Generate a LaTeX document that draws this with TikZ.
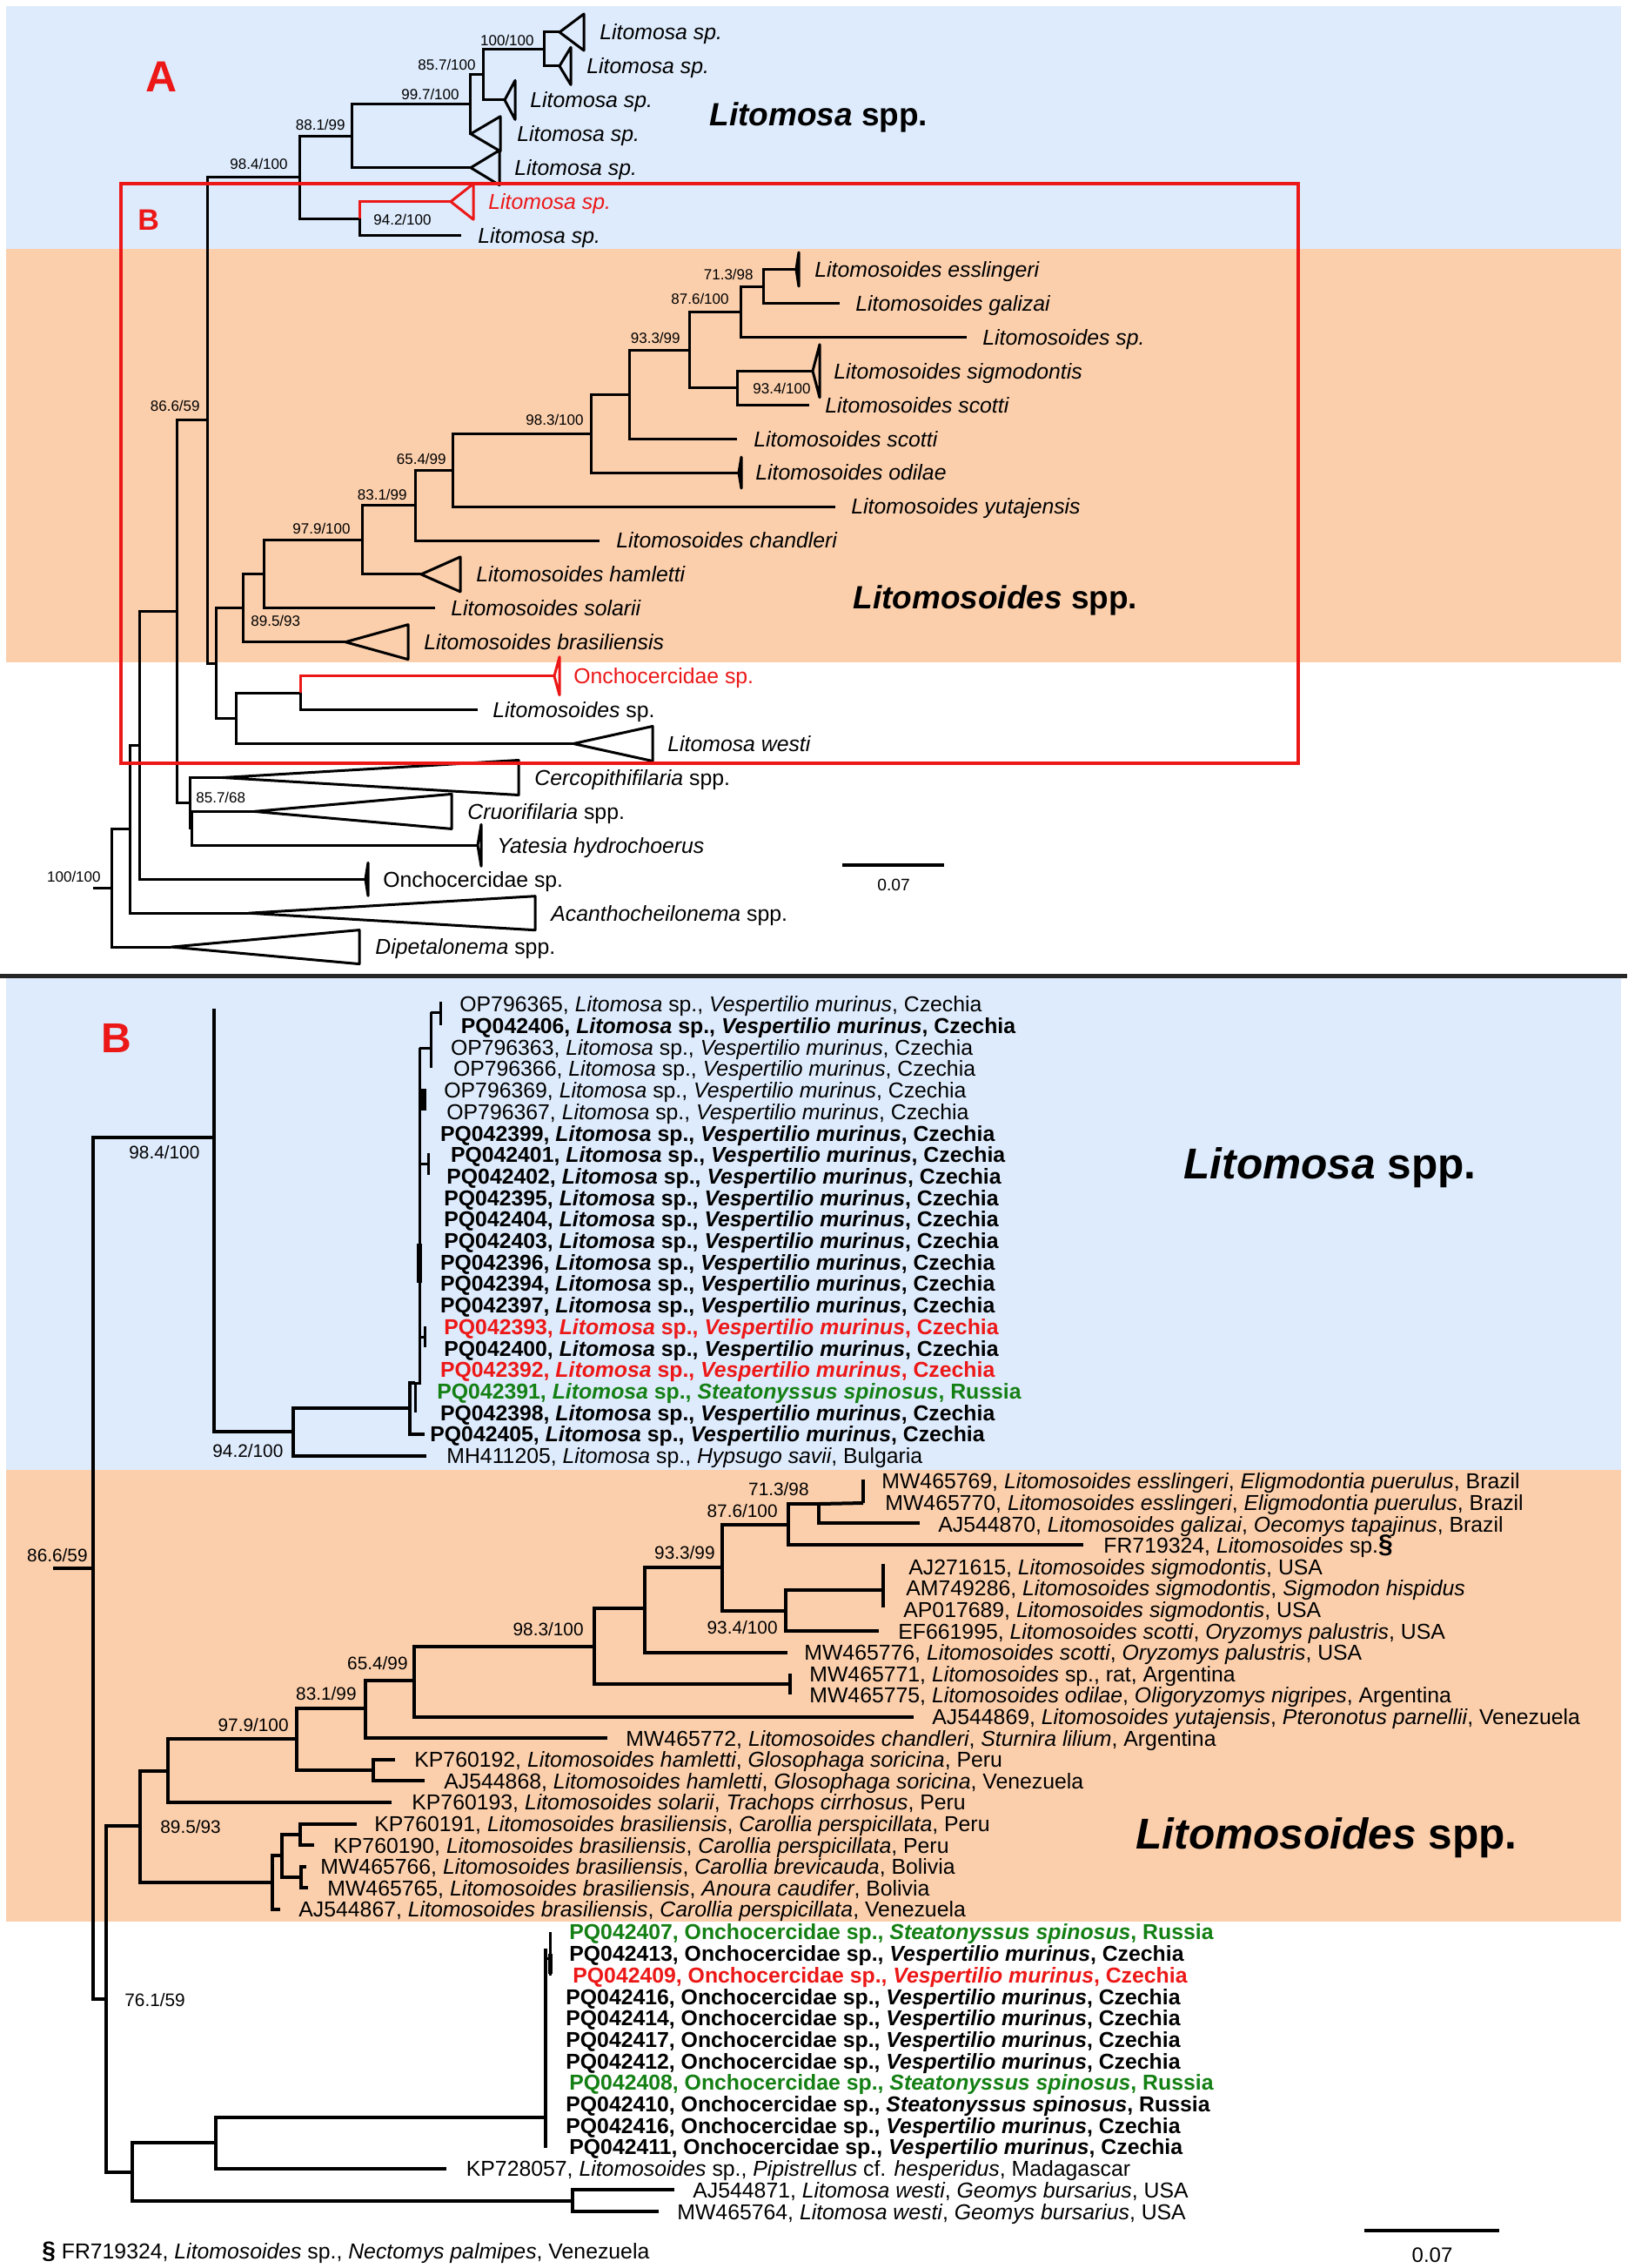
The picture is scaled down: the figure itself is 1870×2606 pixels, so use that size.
\documentclass[tikz,border=0pt]{standalone}
\usepackage{fontspec}
\setmainfont{Liberation Sans}
\definecolor{bgblue}{RGB}{222,235,252}
\definecolor{bgorange}{RGB}{252,207,172}
\definecolor{myred}{RGB}{236,24,24}
\definecolor{mygreen}{RGB}{20,128,20}
\newcommand\tipf{\fontsize{12.4pt}{14pt}\selectfont}
\newcommand\bootAf{\fontsize{8.5pt}{10pt}\selectfont}
\newcommand\bootBf{\fontsize{10.4pt}{12pt}\selectfont}
\newcommand\vmur{\textit{Vespertilio murinus}}
\newcommand\stsp{\textit{Steatonyssus spinosus}}
\newcommand\litsp{\textit{Litomosa} sp.}
\newcommand\clade[4]{\draw[tri,#4] (#1) -- ++(#2,-#3) -- ++(0,2*#3) -- cycle;}
\begin{document}
\begin{tikzpicture}[x=0.5pt,y=-0.5pt,
  brA/.style={line width=1.5pt},
  brB/.style={line width=2pt},
  brS/.style={line width=1.5pt},
  tri/.style={line width=1.5pt, line join=round},
  leaf/.style={anchor=base west, yshift=-4.44pt, inner sep=0pt, font=\tipf},
  leafb/.style={leaf, font=\tipf\bfseries},
  bAe/.style={anchor=base east, yshift=-3.04pt, inner sep=0pt, font=\bootAf},
  bAw/.style={anchor=base west, yshift=-3.04pt, inner sep=0pt, font=\bootAf},
  bBe/.style={anchor=base east, yshift=-3.72pt, inner sep=0pt, font=\bootBf},
  bBw/.style={anchor=base west, yshift=-3.72pt, inner sep=0pt, font=\bootBf}]
\useasboundingbox (0,0) rectangle (1870,2606);
\fill[white] (0,0) rectangle (1870,2606);
% ---------------- backgrounds ----------------
\fill[bgblue] (7,7) rectangle (1863,286);
\fill[bgorange] (7,286) rectangle (1863,761);
\fill[bgblue] (7,1124) rectangle (1863,1689);
\fill[bgorange] (7,1689) rectangle (1863,2208);
\coordinate (sepL) at (0,1121);
\coordinate (sepR) at (1870,1121);
\draw[line width=2.5pt, black!85] (sepL) -- (sepR);

% ================= PANEL A =================
\coordinate (a0s) at (107,1020.5);
\coordinate (a0) at (128,1020.5);
\coordinate (a1) at (149,952.9);
\coordinate (a2) at (160,856.5);
\coordinate (a3) at (203,702.8);
\coordinate (a4) at (238,482.8);
\coordinate (a5) at (344,203.7);
\coordinate (a6) at (404,156.2);
\coordinate (a7) at (540,119.7);
\coordinate (a8) at (555,85.7);
\coordinate (a8b) at (625,56.5);
\coordinate (a9) at (413,251.1);
\coordinate (a10) at (248,762);
\coordinate (a11) at (279,698.6);
\coordinate (a12) at (303,659.5);
\coordinate (a13) at (416,620.2);
\coordinate (a14) at (477,580.5);
\coordinate (a15) at (520,540);
\coordinate (a16) at (679,498.1);
\coordinate (a17) at (723,453.1);
\coordinate (a18) at (792,402);
\coordinate (a19) at (851,358.2);
\coordinate (a19c) at (877,329);
\coordinate (a19b) at (847,445.8);
\coordinate (a20) at (218,922.7);
\coordinate (a21) at (220,951.9);
\coordinate (a30) at (271,825.3);
\coordinate (a31) at (345,796.2);
% tips
\coordinate (p1) at (643,37.0);
\coordinate (p2) at (643,75.9);
\coordinate (p3) at (580,114.9);
\coordinate (p4) at (541,153.8);
\coordinate (p5) at (541,192.7);
\coordinate (p6) at (518,231.7);
\coordinate (p7) at (530,270.6);
\coordinate (p8) at (915,309.5);
\coordinate (p9) at (965,348.4);
\coordinate (p10) at (1111,387.4);
\coordinate (p11) at (934,426.3);
\coordinate (p12) at (930,465.2);
\coordinate (p13) at (847,504.2);
\coordinate (p14) at (849,543.1);
\coordinate (p15) at (960,582.0);
\coordinate (p16) at (689,621.0);
\coordinate (p17) at (484,659.9);
\coordinate (p18) at (500,698.8);
\coordinate (p19) at (397,737.7);
\coordinate (p20) at (637,776.7);
\coordinate (p21) at (549,815.6);
\coordinate (p22) at (659,854.5);
\coordinate (p23) at (256,893.5);
\coordinate (p24) at (292,932.4);
\coordinate (p25) at (549,971.3);
\coordinate (p26) at (420,1010.3);
\coordinate (p27) at (286,1049.2);
\coordinate (p28) at (197,1088.1);
% branches
\draw[brA] (a0s) -- (a0);
\draw[brA] (a0) |- (a1);  \draw[brA] (a0) |- (p28);
\draw[brA] (a1) |- (a2);  \draw[brA] (a1) |- (p27);
\draw[brA] (a2) |- (a3);  \draw[brA] (a2) |- (p26);
\draw[brA] (a3) |- (a4);  \draw[brA] (a3) |- (a20);
\draw[brA] (a4) |- (a5);  \draw[brA] (a4) |- (a10);
\draw[brA] (a5) |- (a6);  \draw[brA] (a5) |- (a9);
\draw[brA] (a6) |- (a7);  \draw[brA] (a6) |- (p5);
\draw[brA] (a7) |- (a8);  \draw[brA] (a7) |- (p4);
\draw[brA] (a8) |- (a8b); \draw[brA] (a8) |- (p3);
\draw[brA] (a8b) |- (p1); \draw[brA] (a8b) |- (p2);
\draw[brA] (a9) |- (p7);  \draw[brA, myred] (a9) |- (p6);
\draw[brA] (a10) |- (a11); \draw[brA] (a10) |- (a30);
\draw[brA] (a11) |- (a12); \draw[brA] (a11) |- (p19);
\draw[brA] (a12) |- (a13); \draw[brA] (a12) |- (p18);
\draw[brA] (a13) |- (a14); \draw[brA] (a13) |- (p17);
\draw[brA] (a14) |- (a15); \draw[brA] (a14) |- (p16);
\draw[brA] (a15) |- (a16); \draw[brA] (a15) |- (p15);
\draw[brA] (a16) |- (a17); \draw[brA] (a16) |- (p14);
\draw[brA] (a17) |- (a18); \draw[brA] (a17) |- (p13);
\draw[brA] (a18) |- (a19); \draw[brA] (a18) |- (a19b);
\draw[brA] (a19) |- (a19c); \draw[brA] (a19) |- (p10);
\draw[brA] (a19c) |- (p8); \draw[brA] (a19c) |- (p9);
\draw[brA] (a19b) |- (p11); \draw[brA] (a19b) |- (p12);
\draw[brA] (a30) |- (a31); \draw[brA] (a30) |- (p22);
\draw[brA] (a31) |- (p21); \draw[brA, myred] (a31) |- (p20);
\draw[brA] (a20) |- (p23); \draw[brA] (a20) |- (a21);
\draw[brA] (a21) |- (p24); \draw[brA] (a21) |- (p25);
% collapsed clades
\clade{p1}{28}{21}{}
\clade{p2}{13}{21.5}{}
\clade{p3}{12}{22.5}{}
\clade{p4}{34}{20}{}
\clade{p5}{33}{20}{}
\clade{p6}{26}{20.5}{myred}
\clade{p8}{3}{19.5}{}
\clade{p11}{8}{30.5}{}
\clade{p14}{3}{18}{}
\clade{p17}{45}{20}{}
\clade{p19}{72}{20}{}
\clade{p20}{6}{22}{myred}
\clade{p22}{91}{20}{}
\clade{p23}{340}{20}{}
\clade{p24}{227}{20}{}
\clade{p25}{4}{24}{}
\clade{p26}{3}{19}{}
\clade{p27}{329}{19.5}{}
\clade{p28}{216}{19.5}{}
% tip labels
\node[leaf] (l1) at (689,37.0) {\textit{Litomosa sp.}};
\node[leaf] (l2) at (674,75.9) {\textit{Litomosa sp.}};
\node[leaf] (l3) at (609,114.9) {\textit{Litomosa sp.}};
\node[leaf] (l4) at (594,153.8) {\textit{Litomosa sp.}};
\node[leaf] (l5) at (591,192.7) {\textit{Litomosa sp.}};
\node[leaf, text=myred] (l6) at (561,231.7) {\textit{Litomosa sp.}};
\node[leaf] (l7) at (549,270.6) {\textit{Litomosa sp.}};
\node[leaf] (l8) at (936,309.5) {\textit{Litomosoides esslingeri}};
\node[leaf] (l9) at (983,348.4) {\textit{Litomosoides galizai}};
\node[leaf] (l10) at (1129,387.4) {\textit{Litomosoides sp.}};
\node[leaf] (l11) at (958,426.3) {\textit{Litomosoides sigmodontis}};
\node[leaf] (l12) at (948,465.2) {\textit{Litomosoides scotti}};
\node[leaf] (l13) at (866,504.2) {\textit{Litomosoides scotti}};
\node[leaf] (l14) at (868,543.1) {\textit{Litomosoides odilae}};
\node[leaf] (l15) at (978,582.0) {\textit{Litomosoides yutajensis}};
\node[leaf] (l16) at (708,621.0) {\textit{Litomosoides chandleri}};
\node[leaf] (l17) at (547,659.9) {\textit{Litomosoides hamletti}};
\node[leaf] (l18) at (518,698.8) {\textit{Litomosoides solarii}};
\node[leaf] (l19) at (487,737.7) {\textit{Litomosoides brasiliensis}};
\node[leaf, text=myred] (l20) at (659,776.7) {Onchocercidae sp.};
\node[leaf] (l21) at (566,815.6) {\textit{Litomosoides} sp.};
\node[leaf] (l22) at (767,854.5) {\textit{Litomosa westi}};
\node[leaf] (l23) at (614,893.5) {\textit{Cercopithifilaria} spp.};
\node[leaf] (l24) at (537,932.4) {\textit{Cruorifilaria} spp.};
\node[leaf] (l25) at (571,971.3) {\textit{Yatesia hydrochoerus}};
\node[leaf] (l26) at (440,1010.3) {Onchocercidae sp.};
\node[leaf] (l27) at (633,1049.2) {\textit{Acanthocheilonema} spp.};
\node[leaf] (l28) at (431,1088.1) {\textit{Dipetalonema} spp.};
% support values
\node[bAe] (sA1) at (614,46) {100/100};
\node[bAe] (sA2) at (547,74) {85.7/100};
\node[bAe] (sA3) at (528,108) {99.7/100};
\node[bAe] (sA4) at (397,143) {88.1/99};
\node[bAe] (sA5) at (331,188) {98.4/100};
\node[bAw] (sA6) at (429,252) {94.2/100};
\node[bAe] (sA7) at (866,315) {71.3/98};
\node[bAe] (sA8) at (838,343) {87.6/100};
\node[bAe] (sA9) at (782,388) {93.3/99};
\node[bAw] (sA10) at (865,446) {93.4/100};
\node[bAe] (sA11) at (671,482) {98.3/100};
\node[bAe] (sA12) at (513,527) {65.4/99};
\node[bAe] (sA13) at (230,466) {86.6/59};
\node[bAe] (sA14) at (468,568) {83.1/99};
\node[bAe] (sA15) at (403,607) {97.9/100};
\node[bAw] (sA16) at (288,713) {89.5/93};
\node[bAw] (sA17) at (225,916) {85.7/68};
\node[bAe] (sA18) at (116,1007) {100/100};
% group labels
\node[anchor=base west, yshift=-6.62pt, inner sep=0pt, font=\fontsize{18.5pt}{20pt}\selectfont\bfseries] (gA1) at (815,131) {\textit{Litomosa} spp.};
\node[anchor=base west, yshift=-6.62pt, inner sep=0pt, font=\fontsize{18.5pt}{20pt}\selectfont\bfseries] (gA2) at (980,686) {\textit{Litomosoides} spp.};
\node[anchor=base west, yshift=-8.95pt, inner sep=0pt, text=myred, font=\fontsize{25pt}{26pt}\selectfont\bfseries] (lblA) at (167,87.5) {A};
\node[anchor=base west, yshift=-6.09pt, inner sep=0pt, text=myred, font=\fontsize{17pt}{18pt}\selectfont\bfseries] (lblBa) at (158,252) {B};
% scale bar A
\coordinate (scA1) at (968,994);
\coordinate (scA2) at (1085,994);
\draw[line width=2.2pt] (scA1) -- (scA2);
\node[anchor=base, yshift=-3.44pt, inner sep=0pt, font=\fontsize{9.6pt}{11pt}\selectfont] (scAl) at (1027,1017) {0.07};
% red frame
\draw[myred, line width=2.3pt] (139,211) rectangle (1492,877);

% ================= PANEL B =================
\coordinate (b0s) at (61,1802);
\coordinate (b0) at (107,1802);
\coordinate (b1) at (246,1307);
\coordinate (b1t) at (246,1159);
\coordinate (b2) at (337,1645);
\coordinate (b3) at (471,1618);
\coordinate (b4) at (477,1589);
\coordinate (b4b) at (477,1623);
\coordinate (b5) at (482,1589);
\coordinate (b5t) at (482,1204);
\coordinate (tMH) at (490,1672.7);
\coordinate (t405) at (488,1648);
\draw[brB] (b0s) -- (b0);
\draw[brB] (b0) |- (b1);
\draw[brB] (b1t) -- (b1);
\draw[brB] (b1) |- (b2);
\draw[brB] (b2) |- (b3); \draw[brB] (b2) |- (tMH);
\draw[brB] (b3) |- (b4); \draw[brB] (b3) |- (t405);
\draw[brS] (b4) -- (b4b);
\draw[brS] (b4) -- (b5) -- (b5t);
% fine structure of the Litomosa sp. cluster
\coordinate (k1) at (495,1204);
\coordinate (k2) at (495,1163);
\coordinate (k3) at (495,1227);
\coordinate (k4) at (506,1163);
\draw[brS] (b5t) -- (k1);
\draw[brS] (k2) -- (k3);
\draw[brS] (k2) -- (k4);
\draw[brS] (506,1151) -- (506,1178);
\draw[line width=3pt] (487,1251) -- (487,1276);
\draw[brS] (482,1263) -- (487,1263);
\draw[brS] (482,1337) -- (492,1337);
\draw[brS] (492,1325) -- (492,1350);
\draw[line width=3pt] (482,1429) -- (482,1474);
\draw[brS] (482,1536) -- (488,1536);
\draw[brS] (488,1524) -- (488,1548);

% Litomosoides and rest
\coordinate (c1) at (122,2297);
\coordinate (c2) at (161,2098);
\coordinate (c3) at (193,2035);
\coordinate (c4) at (341,1998);
\coordinate (c5) at (420,1963);
\coordinate (c6) at (476,1931);
\coordinate (c7) at (683,1892);
\coordinate (c8) at (741,1848);
\coordinate (c9) at (830,1801);
\coordinate (c10) at (906,1752);
\coordinate (c11) at (941,1728);
\coordinate (c13) at (903,1851);
\coordinate (c20) at (429,2034);
\coordinate (c30) at (313,2163);
\coordinate (c31) at (324,2132);
\coordinate (c32) at (345,2108);
\coordinate (c33) at (346,2157);
\coordinate (c40) at (152,2496);
\coordinate (c41) at (247.5,2462);
\coordinate (c42) at (627,2433);
\coordinate (c50) at (658,2529);
\coordinate (q0) at (992,1727);
\coordinate (q0t) at (992,1700);
\coordinate (q2) at (1057,1750);
\coordinate (q3) at (1245,1775);
\coordinate (q4) at (1015,1827);
\coordinate (q7) at (1010,1874);
\coordinate (q8) at (905,1899);
\coordinate (q9) at (907.5,1935);
\coordinate (q11) at (1050,1973);
\coordinate (q12) at (698,1997);
\coordinate (q13) at (454,2022);
\coordinate (q14) at (488,2046);
\coordinate (q15) at (450,2071);
\coordinate (q16) at (410,2096);
\coordinate (q17) at (361,2120);
\coordinate (q18) at (352,2145);
\coordinate (q19) at (354,2169);
\coordinate (q20) at (322,2194);
\coordinate (q21) at (513,2492);
\coordinate (q22) at (775,2516);
\coordinate (q23) at (757,2541);
\draw[brB] (b0) |- (c1);
\draw[brB] (c1) |- (c2);  \draw[brB] (c1) |- (c40);
\draw[brB] (c2) |- (c3);  \draw[brB] (c2) |- (c30);
\draw[brB] (c3) |- (c4);  \draw[brB] (c3) |- (q15);
\draw[brB] (c4) |- (c5);  \draw[brB] (c4) |- (c20);
\draw[brB] (c20) |- (q13); \draw[brB] (c20) |- (q14);
\draw[brB] (c5) |- (c6);  \draw[brB] (c5) |- (q12);
\draw[brB] (c6) |- (c7);  \draw[brB] (c6) |- (q11);
\draw[brB] (c7) |- (c8);  \draw[brB] (c7) |- (q9);
\draw[brB] (907.5,1923) -- (907.5,1947);
\draw[brB] (c8) |- (c9);  \draw[brB] (c8) |- (q8);
\draw[brB] (c9) |- (c10); \draw[brB] (c9) |- (c13);
\draw[brB] (c10) |- (c11); \draw[brB] (c10) |- (q3);
\draw[brB] (c11) -- (q0); \draw[brB] (c11) |- (q2);
\draw[brB] (q0) -- (q0t);
\draw[brB] (c13) |- (q4); \draw[brB] (c13) |- (q7);
\draw[brB] (1015,1797) -- (1015,1847);
\draw[brB] (c30) |- (c31); \draw[brB] (c30) |- (q20);
\draw[brB] (c31) |- (c32); \draw[brB] (c31) |- (c33);
\draw[brB] (c32) |- (q16); \draw[brB] (c32) |- (q17);
\draw[brB] (c33) |- (q18); \draw[brB] (c33) |- (q19);
\draw[brB] (c40) |- (c41); \draw[brB] (c40) |- (c50);
\draw[brB] (c41) |- (c42); \draw[brB] (c41) |- (q21);
\draw[brB] (627,2239) -- (627,2468);
\draw[brS] (632,2220) -- (632,2270);
\draw[line width=2.5pt] (632,2245) -- (632,2268);
\draw[brS] (627,2250) -- (632,2250);
\draw[brB] (c50) |- (q22); \draw[brB] (c50) |- (q23);

% Litomosa rows
\node[leaf] (r0) at (528,1154) {OP796365, \litsp, \vmur, Czechia};
\node[leafb] (r1) at (529.5,1178.7) {PQ042406, \litsp, \vmur, Czechia};
\node[leaf] (r2) at (517.6,1203.4) {OP796363, \litsp, \vmur, Czechia};
\node[leaf] (r3) at (520.6,1228.1) {OP796366, \litsp, \vmur, Czechia};
\node[leaf] (r4) at (510,1252.8) {OP796369, \litsp, \vmur, Czechia};
\node[leaf] (r5) at (513,1277.5) {OP796367, \litsp, \vmur, Czechia};
\node[leafb] (r6) at (505.7,1302.2) {PQ042399, \litsp, \vmur, Czechia};
\node[leafb] (r7) at (517.6,1326.9) {PQ042401, \litsp, \vmur, Czechia};
\node[leafb] (r8) at (513,1351.6) {PQ042402, \litsp, \vmur, Czechia};
\node[leafb] (r9) at (510,1376.3) {PQ042395, \litsp, \vmur, Czechia};
\node[leafb] (r10) at (510,1401) {PQ042404, \litsp, \vmur, Czechia};
\node[leafb] (r11) at (510,1425.7) {PQ042403, \litsp, \vmur, Czechia};
\node[leafb] (r12) at (505.7,1450.4) {PQ042396, \litsp, \vmur, Czechia};
\node[leafb] (r13) at (505.7,1475.1) {PQ042394, \litsp, \vmur, Czechia};
\node[leafb] (r14) at (505.7,1499.8) {PQ042397, \litsp, \vmur, Czechia};
\node[leafb, text=myred] (r15) at (510,1524.5) {PQ042393, \litsp, \vmur, Czechia};
\node[leafb] (r16) at (510,1549.2) {PQ042400, \litsp, \vmur, Czechia};
\node[leafb, text=myred] (r17) at (505.7,1573.9) {PQ042392, \litsp, \vmur, Czechia};
\node[leafb, text=mygreen] (r18) at (502,1598.6) {PQ042391, \litsp, \stsp, Russia};
\node[leafb] (r19) at (505.7,1623.3) {PQ042398, \litsp, \vmur, Czechia};
\node[leafb] (r20) at (494,1648) {PQ042405, \litsp, \vmur, Czechia};
\node[leaf] (r21) at (513,1672.7) {MH411205, \litsp, \textit{Hypsugo savii}, Bulgaria};
% Litomosoides rows
\node[leaf] (s0) at (1013,1702) {MW465769, \textit{Litomosoides esslingeri}, \textit{Eligmodontia puerulus}, Brazil};
\node[leaf] (s1) at (1017,1726.6) {MW465770, \textit{Litomosoides esslingeri}, \textit{Eligmodontia puerulus}, Brazil};
\node[leaf] (s2) at (1078,1751.2) {AJ544870, \textit{Litomosoides galizai}, \textit{Oecomys tapajinus}, Brazil};
\node[leaf] (s3) at (1268,1775.8) {FR719324, \textit{Litomosoides} sp.\textbf{\fontsize{15pt}{15pt}\selectfont §}};
\node[leaf] (s4) at (1044,1800.4) {AJ271615, \textit{Litomosoides sigmodontis}, USA};
\node[leaf] (s5) at (1041,1825) {AM749286, \textit{Litomosoides sigmodontis}, \textit{Sigmodon hispidus}};
\node[leaf] (s6) at (1038,1849.6) {AP017689, \textit{Litomosoides sigmodontis}, USA};
\node[leaf] (s7) at (1032,1874.2) {EF661995, \textit{Litomosoides scotti}, \textit{Oryzomys palustris}, USA};
\node[leaf] (s8) at (924,1898.8) {MW465776, \textit{Litomosoides scotti}, \textit{Oryzomys palustris}, USA};
\node[leaf] (s9) at (930,1923.4) {MW465771, \textit{Litomosoides} sp., rat, Argentina};
\node[leaf] (s10) at (930,1948) {MW465775, \textit{Litomosoides odilae}, \textit{Oligoryzomys nigripes}, Argentina};
\node[leaf] (s11) at (1071,1972.6) {AJ544869, \textit{Litomosoides yutajensis}, \textit{Pteronotus parnellii}, Venezuela};
\node[leaf] (s12) at (719,1997.2) {MW465772, \textit{Litomosoides chandleri}, \textit{Sturnira lilium}, Argentina};
\node[leaf] (s13) at (476,2021.8) {KP760192, \textit{Litomosoides hamletti}, \textit{Glosophaga soricina}, Peru};
\node[leaf] (s14) at (510,2046.4) {AJ544868, \textit{Litomosoides hamletti}, \textit{Glosophaga soricina}, Venezuela};
\node[leaf] (s15) at (473,2071) {KP760193, \textit{Litomosoides solarii}, \textit{Trachops cirrhosus}, Peru};
\node[leaf] (s16) at (430,2095.6) {KP760191, \textit{Litomosoides brasiliensis}, \textit{Carollia perspicillata}, Peru};
\node[leaf] (s17) at (383,2120.2) {KP760190, \textit{Litomosoides brasiliensis}, \textit{Carollia perspicillata}, Peru};
\node[leaf] (s18) at (368,2144.8) {MW465766, \textit{Litomosoides brasiliensis}, \textit{Carollia brevicauda}, Bolivia};
\node[leaf] (s19) at (376,2169.4) {MW465765, \textit{Litomosoides brasiliensis}, \textit{Anoura caudifer}, Bolivia};
\node[leaf] (s20) at (343,2194) {AJ544867, \textit{Litomosoides brasiliensis}, \textit{Carollia perspicillata}, Venezuela};
% Onchocercidae rows
\node[leafb, text=mygreen] (o0) at (654,2220) {PQ042407, Onchocercidae sp., \stsp, Russia};
\node[leafb] (o1) at (654,2244.7) {PQ042413, Onchocercidae sp., \vmur, Czechia};
\node[leafb, text=myred] (o2) at (658,2269.4) {PQ042409, Onchocercidae sp., \vmur, Czechia};
\node[leafb] (o3) at (650,2294.1) {PQ042416, Onchocercidae sp., \vmur, Czechia};
\node[leafb] (o4) at (650,2318.8) {PQ042414, Onchocercidae sp., \vmur, Czechia};
\node[leafb] (o5) at (650,2343.5) {PQ042417, Onchocercidae sp., \vmur, Czechia};
\node[leafb] (o6) at (650,2368.2) {PQ042412, Onchocercidae sp., \vmur, Czechia};
\node[leafb, text=mygreen] (o7) at (654,2392.9) {PQ042408, Onchocercidae sp., \stsp, Russia};
\node[leafb] (o8) at (650,2417.6) {PQ042410, Onchocercidae sp., \stsp, Russia};
\node[leafb] (o9) at (650,2442.3) {PQ042416, Onchocercidae sp., \vmur, Czechia};
\node[leafb] (o10) at (654,2467) {PQ042411, Onchocercidae sp., \vmur, Czechia};
\node[leaf] (o11) at (535.5,2491.7) {KP728057, \textit{Litomosoides} sp., \textit{Pipistrellus} cf. \textit{hesperidus}, Madagascar};
\node[leaf] (o12) at (796,2516.4) {AJ544871, \textit{Litomosa westi}, \textit{Geomys bursarius}, USA};
\node[leaf] (o13) at (778,2541.1) {MW465764, \textit{Litomosa westi}, \textit{Geomys bursarius}, USA};
% support values B
\node[bBw] (sB1) at (148,1324) {98.4/100};
\node[bBw] (sB2) at (244,1667) {94.2/100};
\node[bBe] (sB3) at (101,1787) {86.6/59};
\node[bBw] (sB4) at (143,2298) {76.1/59};
\node[bBw] (sB5) at (184,2099) {89.5/93};
\node[bBe] (sB6) at (332,1982) {97.9/100};
\node[bBe] (sB7) at (410,1946) {83.1/99};
\node[bBe] (sB8) at (469,1911) {65.4/99};
\node[bBe] (sB9) at (671,1872) {98.3/100};
\node[bBe] (sB10) at (822,1784) {93.3/99};
\node[bBe] (sB11) at (894,1736) {87.6/100};
\node[bBe] (sB12) at (930,1711) {71.3/98};
\node[bBe] (sB13) at (894,1870) {93.4/100};
% group labels B
\node[anchor=base west, yshift=-8.88pt, inner sep=0pt, font=\fontsize{24.8pt}{26pt}\selectfont\bfseries] (gB1) at (1360,1337) {\textit{Litomosa} spp.};
\node[anchor=base west, yshift=-8.88pt, inner sep=0pt, font=\fontsize{24.8pt}{26pt}\selectfont\bfseries] (gB2) at (1305,2107) {\textit{Litomosoides} spp.};
\node[anchor=base west, yshift=-8.6pt, inner sep=0pt, text=myred, font=\fontsize{24pt}{25pt}\selectfont\bfseries] (lblB) at (116,1192) {B};
% scale bar B
\coordinate (scB1) at (1568,2563);
\coordinate (scB2) at (1723,2563);
\draw[line width=2pt] (scB1) -- (scB2);
\node[anchor=base, yshift=-4.3pt, inner sep=0pt, font=\fontsize{12pt}{13pt}\selectfont] (scBl) at (1646,2591) {0.07};
% footnote
\node[leaf] (fn) at (48,2587) {\textbf{\fontsize{14pt}{14pt}\selectfont §} FR719324, \textit{Litomosoides} sp., \textit{Nectomys palmipes}, Venezuela};
\end{tikzpicture}
\end{document}
